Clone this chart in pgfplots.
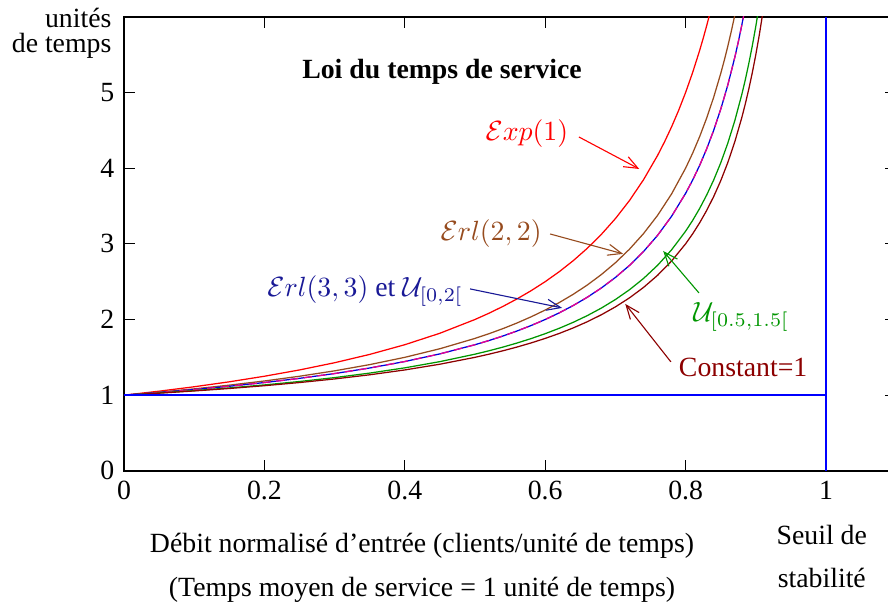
\documentclass[border=0pt]{standalone}
\usepackage{pgfplots}
\pgfplotsset{compat=1.18}
\usepackage{fontspec}
\setmainfont{Liberation Serif}
\usetikzlibrary{arrows.meta}
\definecolor{cbrown}{RGB}{150,75,30}
\definecolor{cblue}{RGB}{0,0,220}
\definecolor{lblue}{RGB}{25,25,150}
\definecolor{cgreen}{RGB}{0,150,0}
\definecolor{cdred}{RGB}{140,0,0}
\begin{document}
\begin{tikzpicture}[font=\fontsize{10}{12}\selectfont]
\begin{axis}[
  scale only axis, width=277.9pt, height=163.4pt,
  xmin=0, xmax=1.1, ymin=0, ymax=6,
  xtick={0,0.2,0.4,0.6,0.8,1},
  xticklabels={0,0.2,0.4,0.6,0.8,1},
  ytick={0,1,2,3,4,5},
  yticklabels={0,1,2,3,4,5},
  major tick length=4pt,
  tick style={black, line width=0.4pt},
  axis line style={black, line width=0.6pt},
  /pgf/number format/assume math mode=true,
  tick label style={font=\fontsize{10}{12}\selectfont},
  every axis plot/.append style={line width=0.45pt, no marks, line join=round},
]
\addplot[red] coordinates {(0,1) (0.05,1.0526) (0.1,1.1111) (0.15,1.1765) (0.2,1.25) (0.25,1.3333) (0.3,1.4286) (0.35,1.5385) (0.4,1.6667) (0.45,1.8182) (0.5,2) (0.52,2.0833) (0.54,2.1739) (0.56,2.2727) (0.58,2.381) (0.6,2.5) (0.62,2.6316) (0.64,2.7778) (0.66,2.9412) (0.68,3.125) (0.7,3.3333) (0.72,3.5714) (0.74,3.8462) (0.76,4.1667) (0.77,4.3478) (0.78,4.5455) (0.79,4.7619) (0.8,5) (0.81,5.2632) (0.82,5.5556) (0.825,5.7143) (0.83,5.8824) (0.835,6.0606)};
\addplot[cbrown] coordinates {(0,1) (0.05,1.0395) (0.1,1.0833) (0.15,1.1324) (0.2,1.1875) (0.25,1.25) (0.3,1.3214) (0.35,1.4038) (0.4,1.5) (0.45,1.6136) (0.5,1.75) (0.52,1.8125) (0.54,1.8804) (0.56,1.9545) (0.58,2.0357) (0.6,2.125) (0.62,2.2237) (0.64,2.3333) (0.66,2.4559) (0.68,2.5938) (0.7,2.75) (0.72,2.9286) (0.74,3.1346) (0.76,3.375) (0.78,3.6591) (0.8,4) (0.81,4.1974) (0.82,4.4167) (0.83,4.6618) (0.84,4.9375) (0.85,5.25) (0.855,5.4224) (0.86,5.6071) (0.865,5.8056) (0.87,6.0192)};
\addplot[cblue] coordinates {(0,1) (0.05,1.0351) (0.1,1.0741) (0.15,1.1176) (0.2,1.1667) (0.25,1.2222) (0.3,1.2857) (0.35,1.359) (0.4,1.4444) (0.45,1.5455) (0.5,1.6667) (0.52,1.7222) (0.54,1.7826) (0.56,1.8485) (0.58,1.9206) (0.6,2) (0.62,2.0877) (0.64,2.1852) (0.66,2.2941) (0.68,2.4167) (0.7,2.5556) (0.72,2.7143) (0.74,2.8974) (0.76,3.1111) (0.78,3.3636) (0.8,3.6667) (0.81,3.8421) (0.82,4.037) (0.83,4.2549) (0.84,4.5) (0.85,4.7778) (0.86,5.0952) (0.87,5.4615) (0.875,5.6667) (0.88,5.8889) (0.885,6.1304)};
\addplot[magenta, densely dashed] coordinates {(0,1) (0.05,1.0351) (0.1,1.0741) (0.15,1.1176) (0.2,1.1667) (0.25,1.2222) (0.3,1.2857) (0.35,1.359) (0.4,1.4444) (0.45,1.5455) (0.5,1.6667) (0.52,1.7222) (0.54,1.7826) (0.56,1.8485) (0.58,1.9206) (0.6,2) (0.62,2.0877) (0.64,2.1852) (0.66,2.2941) (0.68,2.4167) (0.7,2.5556) (0.72,2.7143) (0.74,2.8974) (0.76,3.1111) (0.78,3.3636) (0.8,3.6667) (0.81,3.8421) (0.82,4.037) (0.83,4.2549) (0.84,4.5) (0.85,4.7778) (0.86,5.0952) (0.87,5.4615) (0.875,5.6667) (0.88,5.8889) (0.885,6.1304)};
\addplot[cgreen] coordinates {(0,1) (0.05,1.0285) (0.1,1.0602) (0.15,1.0956) (0.2,1.1354) (0.25,1.1806) (0.3,1.2321) (0.35,1.2917) (0.4,1.3611) (0.45,1.4432) (0.5,1.5417) (0.52,1.5868) (0.54,1.6359) (0.56,1.6894) (0.58,1.748) (0.6,1.8125) (0.62,1.8838) (0.64,1.963) (0.66,2.0515) (0.68,2.151) (0.7,2.2639) (0.72,2.3929) (0.74,2.5417) (0.76,2.7153) (0.78,2.9205) (0.8,3.1667) (0.81,3.3092) (0.82,3.4676) (0.83,3.6446) (0.84,3.8438) (0.85,4.0694) (0.86,4.3274) (0.87,4.625) (0.88,4.9722) (0.885,5.1667) (0.89,5.3826) (0.895,5.6171) (0.9,5.875) (0.905,6.1601)};
\addplot[cdred] coordinates {(0,1) (0.05,1.0263) (0.1,1.0556) (0.15,1.0882) (0.2,1.125) (0.25,1.1667) (0.3,1.2143) (0.35,1.2692) (0.4,1.3333) (0.45,1.4091) (0.5,1.5) (0.52,1.5417) (0.54,1.587) (0.56,1.6364) (0.58,1.6905) (0.6,1.75) (0.62,1.8158) (0.64,1.8889) (0.66,1.9706) (0.68,2.0625) (0.7,2.1667) (0.72,2.2857) (0.74,2.4231) (0.76,2.5833) (0.78,2.7727) (0.8,3) (0.81,3.1316) (0.82,3.2778) (0.83,3.4412) (0.84,3.625) (0.85,3.8333) (0.86,4.0714) (0.87,4.3462) (0.88,4.6667) (0.885,4.8478) (0.89,5.0455) (0.895,5.2619) (0.9,5.5) (0.905,5.7632) (0.91,6.0556)};
\addplot[blue, line width=0.9pt] coordinates {(0,1) (1,1)};
\addplot[blue, line width=0.9pt] coordinates {(1,0) (1,6)};

\draw[red, -{Straight Barb[length=5pt,width=4pt]}] (axis cs:0.648,4.412) -- (axis cs:0.734,3.989);
\draw[cbrown, -{Straight Barb[length=5pt,width=4pt]}] (axis cs:0.607,3.130) -- (axis cs:0.711,2.867);
\draw[lblue, -{Straight Barb[length=5pt,width=4pt]}] (axis cs:0.493,2.404) -- (axis cs:0.624,2.153);
\draw[cgreen, -{Straight Barb[length=5pt,width=4pt]}] (axis cs:0.819,2.351) -- (axis cs:0.768,2.906);
\draw[cdred, -{Straight Barb[length=5pt,width=4pt]}] (axis cs:0.779,1.440) -- (axis cs:0.714,2.206);

\node[font=\fontsize{10}{12}\selectfont\bfseries] at (axis cs:0.453,5.27) {Loi du temps de service};
\node[red] at (axis cs:0.574,4.463) {$\mathcal{E}xp(1)$};
\node[cbrown] at (axis cs:0.523,3.131) {$\mathcal{E}rl(2,2)$};
\node[lblue, anchor=base east, inner sep=0pt] at (axis cs:0.483,2.31) {$\mathcal{E}rl(3,3)$ et $\mathcal{U}_{[0,2[}$};
\node[cgreen, anchor=base, inner sep=0pt] at (axis cs:0.879,1.968) {$\mathcal{U}_{[0.5,1.5[}$};
\node[cdred, anchor=base, inner sep=0pt] at (axis cs:0.882,1.242) {Constant=1};

\coordinate (u1) at (axis cs:-0.0171,5.865);
\coordinate (u2) at (axis cs:-0.0171,5.522);
\coordinate (x1) at (axis cs:0.4245,-1.083);
\coordinate (x2) at (axis cs:0.4245,-1.664);
\coordinate (s1) at (axis cs:0.994,-0.978);
\coordinate (s2) at (axis cs:0.994,-1.546);
\coordinate (bl) at (axis cs:-0.1766,-1.730);
\coordinate (tr) at (axis cs:1.0883,6.222);
\end{axis}
\node[anchor=base east, inner sep=0pt] at (u1) {unités};
\node[anchor=base east, inner sep=0pt] at (u2) {de temps};
\node[anchor=base, inner sep=0pt] at (x1) {Débit normalisé d’entrée (clients/unité de temps)};
\node[anchor=base, inner sep=0pt] at (x2) {(Temps moyen de service = 1 unité de temps)};
\node[anchor=base, inner sep=0pt] at (s1) {Seuil de};
\node[anchor=base, inner sep=0pt] at (s2) {stabilité};
\pgfresetboundingbox
\path[use as bounding box] (bl) rectangle (tr);
\end{tikzpicture}
\end{document}
